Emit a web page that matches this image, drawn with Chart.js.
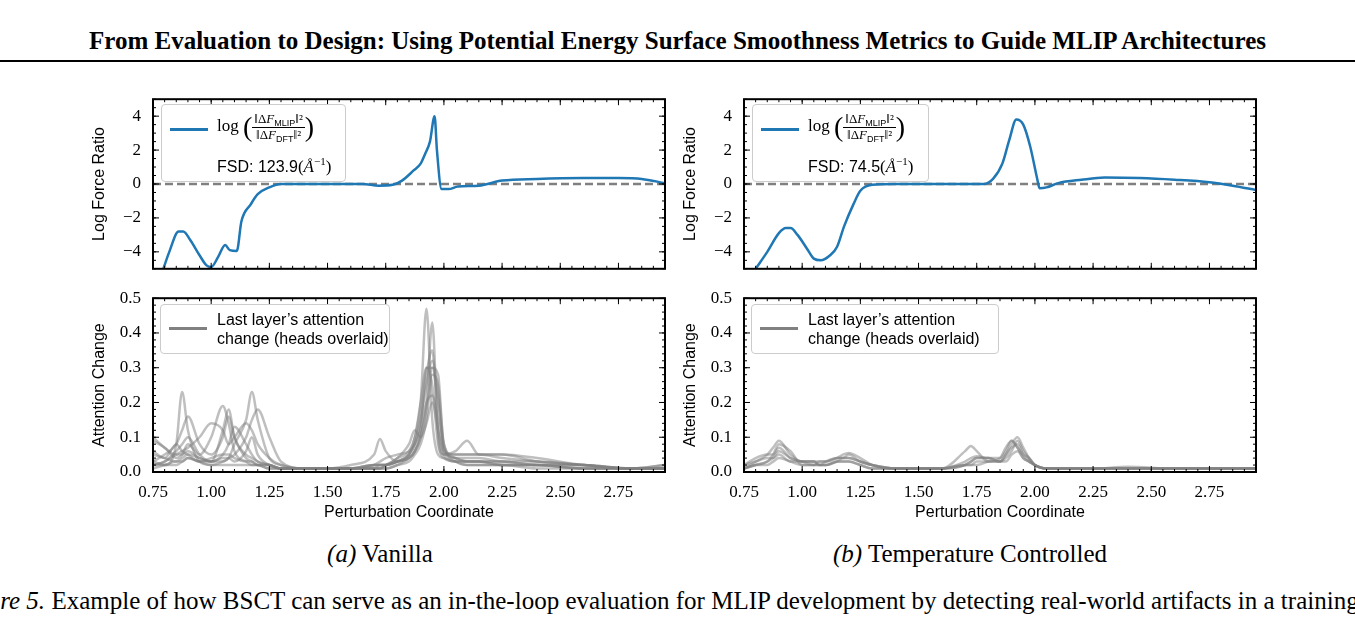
<!DOCTYPE html>
<html>
<head>
<meta charset="utf-8">
<script src="https://cdn.jsdelivr.net/npm/chart.js@4.4.1/dist/chart.umd.min.js"></script>
<style>
  body { margin: 0; width: 1355px; height: 617px; background: #fff; position: relative; overflow: hidden; font-family: "Liberation Serif", serif; }
  .title { position: absolute; top: 27px; left: 0; width: 1355px; text-align: center; font-weight: bold; font-size: 25px; white-space: nowrap; }
  .rule { position: absolute; top: 60px; left: 0; width: 1355px; height: 2px; background: #000; }
  .cv { position: absolute; }
  .cap { position: absolute; top: 540px; font-size: 25px; text-align: center; width: 500px; }
  .foot { position: absolute; top: 587px; left: -47px; font-size: 25px; white-space: nowrap; }
  .leg { position: absolute; background: rgba(255,255,255,0.85); border: 1px solid #ccc; border-radius: 4px; font-family: "Liberation Sans", sans-serif; font-size: 16px; }
  .sw { position: absolute; height: 3px; width: 38px; }
  .frac { display: inline-block; vertical-align: middle; text-align: center; font-family: "Liberation Serif", serif; font-size: 13px; line-height: 14px; }
  .frac .n { border-bottom: 1px solid #000; padding: 0 2px; }
  .sb { font-family: "Liberation Sans", sans-serif; font-size: 9px; position: relative; top: 3px; }
</style>
</head>
<body>
<div class="title">From Evaluation to Design: Using Potential Energy Surface Smoothness Metrics to Guide MLIP Architectures</div>
<div class="rule"></div>

<canvas id="c1" class="cv" style="left:88px;top:85px;width:587px;height:198px"></canvas>
<canvas id="c2" class="cv" style="left:679px;top:85px;width:587px;height:198px"></canvas>
<canvas id="c3" class="cv" style="left:88px;top:284px;width:587px;height:238px"></canvas>
<canvas id="c4" class="cv" style="left:679px;top:284px;width:587px;height:238px"></canvas>

<div class="leg" style="left:161px;top:104px;width:183px;height:76px">
  <div class="sw" style="left:8px;top:23px;background:#1f77b4"></div>
  <div style="position:absolute;left:55px;top:6px;font-family:'Liberation Serif',serif;font-size:17px;white-space:nowrap">log <span style="font-size:28px;vertical-align:middle">(</span><span class="frac"><div class="n">‖Δ<i>F</i><span class="sb">MLIP</span>‖²</div><div>‖Δ<i>F</i><span class="sb">DFT</span>‖²</div></span><span style="font-size:28px;vertical-align:middle">)</span></div>
  <div style="position:absolute;left:55px;top:50px;white-space:nowrap">FSD: 123.9<span style="font-family:'Liberation Serif',serif;font-size:17px">(<i>Å</i><sup style="font-size:11px">−1</sup>)</span></div>
</div>
<div class="leg" style="left:752px;top:104px;width:175px;height:76px">
  <div class="sw" style="left:8px;top:23px;background:#1f77b4"></div>
  <div style="position:absolute;left:55px;top:6px;font-family:'Liberation Serif',serif;font-size:17px;white-space:nowrap">log <span style="font-size:28px;vertical-align:middle">(</span><span class="frac"><div class="n">‖Δ<i>F</i><span class="sb">MLIP</span>‖²</div><div>‖Δ<i>F</i><span class="sb">DFT</span>‖²</div></span><span style="font-size:28px;vertical-align:middle">)</span></div>
  <div style="position:absolute;left:55px;top:50px;white-space:nowrap">FSD: 74.5<span style="font-family:'Liberation Serif',serif;font-size:17px">(<i>Å</i><sup style="font-size:11px">−1</sup>)</span></div>
</div>
<div class="leg" style="left:160px;top:304px;width:228px;height:48px">
  <div class="sw" style="left:8px;top:22px;background:#808080"></div>
  <div style="position:absolute;left:56px;top:5px;line-height:19px">Last layer’s attention<br>change (heads overlaid)</div>
</div>
<div class="leg" style="left:751px;top:304px;width:246px;height:48px">
  <div class="sw" style="left:8px;top:22px;background:#808080"></div>
  <div style="position:absolute;left:56px;top:5px;line-height:19px">Last layer’s attention<br>change (heads overlaid)</div>
</div>

<div class="cap" style="left:130px"><i>(a)</i> Vanilla</div>
<div class="cap" style="left:720px"><i>(b)</i> Temperature Controlled</div>
<div class="foot"><i>Figure 5.</i> Example of how BSCT can serve as an in-the-loop evaluation for MLIP development by detecting real-world artifacts in a training run.</div>

<script>
// ===================================
// Data
// ===================================
const xTicks = [0.75, 1.00, 1.25, 1.50, 1.75, 2.00, 2.25, 2.50, 2.75];
const forceTicks = [-4, -2, 0, 2, 4];
const attnTicks = [0, 0.1, 0.2, 0.3, 0.4, 0.5];

const vanillaX = [0.78,0.82,0.86,0.88,0.91,0.95,0.98,1.00,1.03,1.06,1.08,1.11,1.13,1.17,1.20,1.25,1.30,1.50,1.65,1.72,1.78,1.82,1.87,1.90,1.92,1.94,1.96,1.97,1.99,2.02,2.06,2.15,2.25,2.40,2.60,2.75,2.85,2.95];
const vanillaY = [-5.6,-4.0,-2.8,-2.8,-3.3,-4.2,-4.8,-4.9,-4.3,-3.6,-3.9,-3.95,-2.2,-1.2,-0.6,-0.2,0,0,0,-0.1,-0.05,0.2,0.8,1.2,1.8,2.5,4.0,2.0,-0.3,-0.3,-0.15,-0.1,0.2,0.3,0.35,0.35,0.3,0.05];

const tempX = [0.80,0.85,0.90,0.93,0.95,0.98,1.02,1.05,1.08,1.12,1.15,1.18,1.22,1.25,1.30,1.40,1.70,1.78,1.82,1.86,1.89,1.92,1.95,1.98,2.01,2.02,2.05,2.10,2.20,2.30,2.45,2.60,2.75,2.85,2.95];
const tempY = [-5.0,-4.0,-2.9,-2.6,-2.6,-3.0,-3.8,-4.4,-4.5,-4.2,-3.7,-2.5,-1.2,-0.4,-0.05,0,0,0,0.3,1.2,2.6,3.8,3.5,2.2,0.3,-0.25,-0.2,0.05,0.25,0.38,0.35,0.25,0.1,-0.1,-0.35];

// shared coordinate grid for attention heads
const headX = [0.75,0.80,0.85,0.875,0.90,0.95,1.00,1.05,1.075,1.10,1.15,1.175,1.20,1.25,1.30,1.40,1.50,1.60,1.70,1.725,1.75,1.80,1.85,1.875,1.90,1.925,1.95,1.975,2.00,2.05,2.10,2.15,2.25,2.40,2.60,2.80,2.95];

const vanillaHeads = [
  [0.03,0.02,0.08,0.23,0.12,0.03,0.02,0.02,0.02,0.02,0.02,0.02,0.02,0.01,0.01,0.01,0.01,0.01,0.02,0.02,0.02,0.03,0.05,0.10,0.20,0.47,0.15,0.05,0.04,0.03,0.02,0.02,0.02,0.01,0.01,0.01,0.01],
  [0.02,0.02,0.02,0.03,0.04,0.03,0.02,0.03,0.04,0.08,0.15,0.23,0.15,0.04,0.02,0.01,0.01,0.01,0.02,0.02,0.02,0.03,0.04,0.06,0.10,0.20,0.43,0.10,0.04,0.03,0.03,0.03,0.02,0.02,0.01,0.01,0.02],
  [0.09,0.07,0.04,0.05,0.08,0.05,0.10,0.19,0.14,0.06,0.03,0.02,0.02,0.01,0.01,0.01,0.01,0.01,0.02,0.02,0.02,0.03,0.05,0.08,0.15,0.28,0.35,0.12,0.05,0.06,0.09,0.05,0.05,0.03,0.02,0.01,0.01],
  [0.05,0.04,0.03,0.04,0.05,0.04,0.03,0.03,0.04,0.05,0.10,0.15,0.18,0.10,0.03,0.01,0.01,0.02,0.05,0.095,0.06,0.03,0.04,0.06,0.12,0.30,0.25,0.08,0.05,0.05,0.05,0.05,0.05,0.04,0.02,0.01,0.01],
  [0.02,0.03,0.05,0.06,0.07,0.10,0.14,0.12,0.08,0.10,0.14,0.12,0.08,0.04,0.02,0.01,0.01,0.01,0.01,0.02,0.02,0.04,0.06,0.10,0.20,0.30,0.30,0.20,0.08,0.04,0.03,0.03,0.03,0.02,0.02,0.01,0.01],
  [0.03,0.05,0.08,0.12,0.16,0.08,0.05,0.10,0.16,0.10,0.04,0.03,0.02,0.02,0.01,0.01,0.01,0.01,0.01,0.01,0.02,0.03,0.05,0.08,0.15,0.25,0.32,0.22,0.06,0.04,0.04,0.04,0.03,0.03,0.02,0.01,0.01],
  [0.02,0.03,0.06,0.08,0.10,0.05,0.03,0.12,0.18,0.10,0.05,0.04,0.03,0.02,0.01,0.01,0.01,0.01,0.01,0.01,0.01,0.02,0.04,0.06,0.10,0.18,0.30,0.28,0.07,0.04,0.03,0.03,0.03,0.02,0.02,0.01,0.01],
  [0.10,0.07,0.05,0.05,0.06,0.04,0.03,0.05,0.08,0.13,0.08,0.05,0.03,0.02,0.01,0.01,0.01,0.01,0.02,0.03,0.04,0.05,0.06,0.08,0.12,0.20,0.22,0.15,0.06,0.05,0.05,0.05,0.04,0.03,0.02,0.01,0.02],
  [0.01,0.02,0.03,0.03,0.04,0.03,0.04,0.05,0.05,0.04,0.03,0.03,0.02,0.02,0.01,0.01,0.01,0.01,0.01,0.01,0.01,0.02,0.03,0.05,0.08,0.15,0.28,0.25,0.08,0.03,0.02,0.02,0.02,0.02,0.01,0.01,0.01],
  [0.06,0.04,0.08,0.06,0.05,0.03,0.03,0.04,0.04,0.03,0.06,0.10,0.05,0.02,0.01,0.01,0.01,0.01,0.01,0.01,0.02,0.04,0.08,0.12,0.10,0.14,0.20,0.12,0.05,0.03,0.03,0.03,0.02,0.02,0.01,0.01,0.01]
];

const tempHeads = [
  [0.01,0.03,0.05,0.07,0.09,0.05,0.03,0.03,0.03,0.03,0.04,0.05,0.055,0.04,0.02,0.01,0.01,0.01,0.06,0.075,0.06,0.03,0.03,0.05,0.08,0.10,0.07,0.04,0.02,0.01,0.01,0.01,0.01,0.01,0.01,0.01,0.01],
  [0.02,0.04,0.05,0.05,0.07,0.04,0.03,0.02,0.03,0.03,0.04,0.04,0.05,0.03,0.02,0.01,0.01,0.01,0.03,0.04,0.045,0.04,0.04,0.06,0.09,0.07,0.05,0.04,0.02,0.01,0.01,0.01,0.01,0.01,0.01,0.01,0.01],
  [0.01,0.02,0.03,0.04,0.06,0.04,0.03,0.03,0.02,0.03,0.04,0.04,0.04,0.03,0.02,0.01,0.01,0.01,0.02,0.03,0.04,0.04,0.03,0.04,0.06,0.09,0.06,0.04,0.02,0.01,0.01,0.01,0.01,0.015,0.01,0.01,0.01],
  [0.01,0.02,0.02,0.03,0.04,0.03,0.02,0.02,0.02,0.02,0.03,0.03,0.03,0.02,0.01,0.01,0.01,0.01,0.02,0.02,0.03,0.03,0.03,0.05,0.07,0.08,0.05,0.03,0.02,0.01,0.01,0.01,0.01,0.01,0.01,0.01,0.01],
  [0.02,0.03,0.04,0.04,0.05,0.03,0.03,0.03,0.02,0.02,0.03,0.04,0.04,0.03,0.02,0.01,0.01,0.01,0.02,0.03,0.04,0.04,0.03,0.03,0.05,0.06,0.04,0.03,0.02,0.01,0.01,0.01,0.01,0.01,0.01,0.01,0.01],
  [0.01,0.02,0.03,0.05,0.08,0.06,0.02,0.02,0.02,0.02,0.03,0.03,0.03,0.02,0.01,0.01,0.01,0.01,0.02,0.02,0.02,0.03,0.04,0.07,0.09,0.07,0.04,0.03,0.02,0.01,0.01,0.01,0.01,0.01,0.01,0.01,0.01]
];

// ===================================
// Helpers
// ===================================
const X_MIN = 0.75, X_MAX = 2.95;
const serif = { family: '"Liberation Serif", serif', size: 17 };
const sans = { family: '"Liberation Sans", sans-serif', size: 16 };

function zip(xs, ys) { return xs.map((x, i) => ({ x: x, y: ys[i] })); }
function fmtMinus(v) { return String(v).replace('-', '\u2212'); }

// inward ticks on all four sides + black frame, matplotlib style
const frameTicks = {
  id: 'frameTicks',
  afterDraw(chart, args, opts) {
    const { ctx, chartArea: a, scales } = chart;
    ctx.save();
    ctx.strokeStyle = '#000';
    ctx.lineWidth = 1;
    const drawX = (step, len) => {
      for (let v = Math.ceil(X_MIN / step - 1e-6) * step; v <= X_MAX + 1e-9; v += step) {
        const p = scales.x.getPixelForValue(v);
        ctx.beginPath(); ctx.moveTo(p, a.bottom); ctx.lineTo(p, a.bottom - len);
        ctx.moveTo(p, a.top); ctx.lineTo(p, a.top + len); ctx.stroke();
      }
    };
    const drawY = (step, len) => {
      const lo = scales.y.min, hi = scales.y.max;
      for (let v = Math.ceil(lo / step - 1e-6) * step; v <= hi + 1e-9; v += step) {
        const p = scales.y.getPixelForValue(v);
        ctx.beginPath(); ctx.moveTo(a.left, p); ctx.lineTo(a.left + len, p);
        ctx.moveTo(a.right, p); ctx.lineTo(a.right - len, p); ctx.stroke();
      }
    };
    drawX(0.05, 3);
    xTicks.forEach(v => {
      const p = scales.x.getPixelForValue(v);
      ctx.beginPath(); ctx.moveTo(p, a.bottom); ctx.lineTo(p, a.bottom - 6);
      ctx.moveTo(p, a.top); ctx.lineTo(p, a.top + 6); ctx.stroke();
    });
    drawY(opts.minor, 3);
    drawY(opts.major, 6);
    ctx.lineWidth = 2;
    ctx.strokeRect(a.left, a.top, a.right - a.left, a.bottom - a.top);
    ctx.restore();
  }
};

function makeChart(id, datasets, yCfg, showX) {
  new Chart(document.getElementById(id), {
    type: 'line',
    data: { datasets: datasets },
    plugins: [frameTicks],
    options: {
      animation: false,
      responsive: false,
      layout: { padding: { top: 6, right: 10, bottom: 0, left: 0 } },
      plugins: { legend: { display: false }, tooltip: { enabled: false }, frameTicks: { major: yCfg.major, minor: yCfg.minor } },
      elements: { point: { radius: 0 } },
      scales: {
        x: {
          type: 'linear', min: X_MIN, max: X_MAX,
          grid: { display: false }, border: { display: false },
          afterBuildTicks: s => { s.ticks = xTicks.map(v => ({ value: v })); },
          afterFit: s => { s.height = showX ? 50 : 8; },
          ticks: { display: showX, color: '#000', font: serif, maxRotation: 0, padding: 2, callback: v => v.toFixed(2) },
          title: { display: showX, text: 'Perturbation Coordinate', color: '#000', font: sans, padding: 0 }
        },
        y: {
          min: yCfg.min, max: yCfg.max,
          grid: { display: false }, border: { display: false },
          afterBuildTicks: s => { s.ticks = yCfg.ticks.map(v => ({ value: v })); },
          afterFit: s => { s.width = 65; },
          ticks: { color: '#000', font: serif, padding: 4, callback: yCfg.fmt },
          title: { display: true, text: yCfg.title, color: '#000', font: sans, padding: 2 }
        }
      }
    }
  });
}

function forceSets(xs, ys) {
  return [
    { data: zip(xs, ys), borderColor: '#1f77b4', borderWidth: 2.5, cubicInterpolationMode: 'monotone' },
    { data: [{ x: X_MIN, y: 0 }, { x: X_MAX, y: 0 }], borderColor: '#808080', borderWidth: 2.5, borderDash: [8, 4] }
  ];
}
function headSets(heads) {
  return heads.map(h => ({ data: zip(headX, h), borderColor: 'rgba(128,128,128,0.5)', borderWidth: 2.5, cubicInterpolationMode: 'monotone' }));
}

const forceCfg = { min: -5, max: 5, ticks: forceTicks, major: 2, minor: 0.5, title: 'Log Force Ratio', fmt: v => fmtMinus(v) };
const attnCfg = { min: 0, max: 0.5, ticks: attnTicks, major: 0.1, minor: 0.02, title: 'Attention Change', fmt: v => v.toFixed(1) };

makeChart('c1', forceSets(vanillaX, vanillaY), forceCfg, false);
makeChart('c2', forceSets(tempX, tempY), forceCfg, false);
makeChart('c3', headSets(vanillaHeads), attnCfg, true);
makeChart('c4', headSets(tempHeads), attnCfg, true);
</script>
</body>
</html>
